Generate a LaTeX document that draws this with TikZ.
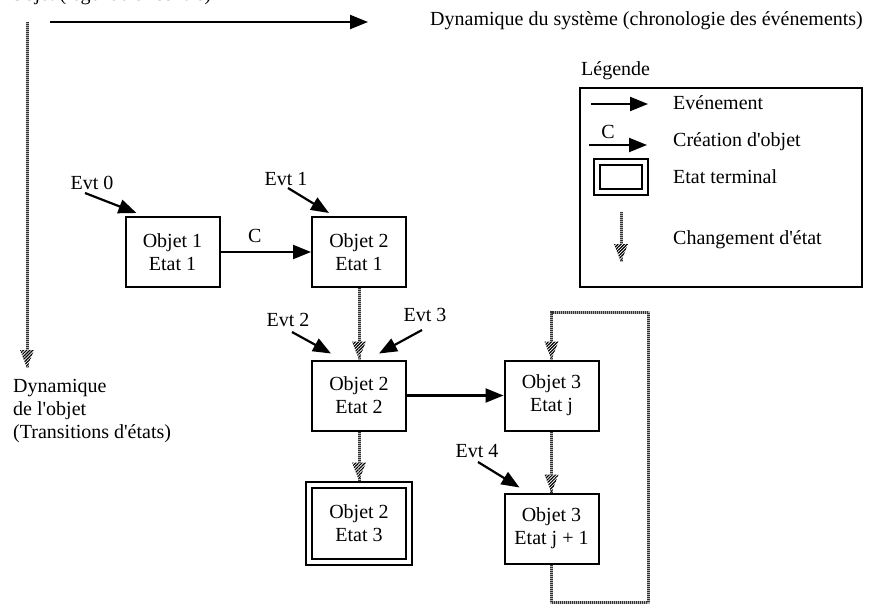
\documentclass[tikz,border=0pt]{standalone}
\usepackage{fontspec}
\setmainfont{Liberation Serif}
\usetikzlibrary{arrows.meta,patterns.meta,calc}
\begin{document}
\begin{tikzpicture}[x=1pt,y=-1pt,
  txt/.style={font=\fontsize{20}{23}\selectfont, inner sep=0pt},
  box/.style={draw, line width=2pt, minimum width=94pt, minimum height=70pt, align=center, font=\fontsize{20}{23}\selectfont, inner sep=0pt},
  evt/.style={line width=2.2pt, -{Triangle[length=18pt,width=14pt]}},
  hatch/.style={line width=3pt, draw=black!30, postaction={draw=black!80, line width=3pt, dash pattern=on 1pt off 1pt}},
  hhead/.pic={
    \fill[white] (0,0) -- (-7,-18) -- (7,-18) -- cycle;
    \fill[pattern={Lines[angle=45,distance=2.2pt,line width=1.2pt]}] (0,0) -- (-7,-18) -- (7,-18) -- cycle;
  }
]
\useasboundingbox (0,0) rectangle (869,604);

% top texts
\node[txt, anchor=base west] (ttl) at (10,1) {Objet (légende ci-contre)};
\node[txt, anchor=base west] (sys) at (430,26) {Dynamique du système (chronologie des événements)};
\coordinate (h1) at (50,22);
\coordinate (h2) at (368,22);
\draw[evt] (h1) -- (h2);

% left vertical
\coordinate (v1) at (27,22);
\coordinate (v2) at (27,368);
\draw[hatch] (v1) -- (v2);
\pic at (v2) {hhead};
\node[txt, anchor=west, align=left] (dyn) at (13,411) {Dynamique\\de l\textquotesingle objet\\(Transitions d\textquotesingle états)};

% legend
\node[txt, anchor=base west] (legt) at (581,76) {Légende};
\node[draw, line width=2pt, minimum width=282pt, minimum height=199pt, inner sep=0pt] (leg) at (721,187.5) {};
\coordinate (l1a) at (591,104);
\coordinate (l1b) at (648,104);
\draw[evt] (l1a) -- (l1b);
\node[txt, anchor=west] (l1t) at (673,103) {Evénement};
\node[txt] (lc) at (608,132) {C};
\coordinate (l2a) at (589,145);
\coordinate (l2b) at (647,145);
\draw[evt] (l2a) -- (l2b);
\node[txt, anchor=west] (l2t) at (673,142) {Création d\textquotesingle objet};
\node[draw, line width=2pt, double=white, double distance=4pt, minimum width=48pt, minimum height=30pt, inner sep=0pt] (l3b) at (621,177) {};
\node[txt, anchor=west] (l3t) at (673,177) {Etat terminal};
\coordinate (l4a) at (621,212);
\coordinate (l4b) at (621,262);
\draw[hatch] (l4a) -- (l4b);
\pic at (l4b) {hhead};
\node[txt, anchor=west] (l4t) at (673,240) {Changement d\textquotesingle état};

% boxes
\node[box] (o11) at (172.5,252) {Objet 1\\Etat 1};
\node[box] (o21) at (359,252) {Objet 2\\Etat 1};
\node[box] (o22) at (359,395.5) {Objet 2\\Etat 2};
\node[box] (o3j) at (551.5,395.5) {Objet 3\\Etat j};
\node[box] (o3k) at (551.5,528.5) {Objet 3\\Etat j + 1};
\node[box, double=white, double distance=4pt, minimum width=100pt, minimum height=77pt] (o23) at (359,523.5) {Objet 2\\Etat 3};

% events
\node[txt] (e0) at (92,183) {Evt 0};
\coordinate (e0s) at (85,193);
\draw[evt] (e0s) -- ($(o11.north west)+(12,-3)$);
\node[txt] (e1) at (286,179) {Evt 1};
\coordinate (e1s) at (288,188);
\draw[evt] (e1s) -- ($(o21.north west)+(18,-3)$);
\node[txt] (e2) at (288,320) {Evt 2};
\coordinate (e2s) at (292,332);
\draw[evt] (e2s) -- ($(o22.north west)+(20,-6)$);
\node[txt] (e3) at (425,315) {Evt 3};
\coordinate (e3s) at (422,330);
\draw[evt] (e3s) -- ($(o22.north east)+(-28,-6)$);
\node[txt] (e4) at (477,451) {Evt 4};
\coordinate (e4s) at (478,462);
\draw[evt] (e4s) -- ($(o3k.north west)+(16,-5)$);

% creation and other event
\draw[evt] (o11.east) -- node[txt, above=8pt, pos=0.38] (cl) {C} (o21.west);
\draw[evt] (o22.east) -- (o3j.west);

% state changes
\draw[hatch] (o21.south) -- (o22.north);
\pic at (o22.north) {hhead};
\draw[hatch] (o22.south) -- ($(o23.north)+(0,-3.5)$);
\pic at ($(o23.north)+(0,-3.5)$) {hhead};
\draw[hatch] (o3j.south) -- (o3k.north);
\pic at (o3k.north) {hhead};
\coordinate (lpA) at (648,602);
\coordinate (lpB) at (648,312);
\draw[hatch] (o3k.south) |- (lpA) -- (lpB) -| (o3j.north);
\pic at (o3j.north) {hhead};
\end{tikzpicture}
\end{document}
